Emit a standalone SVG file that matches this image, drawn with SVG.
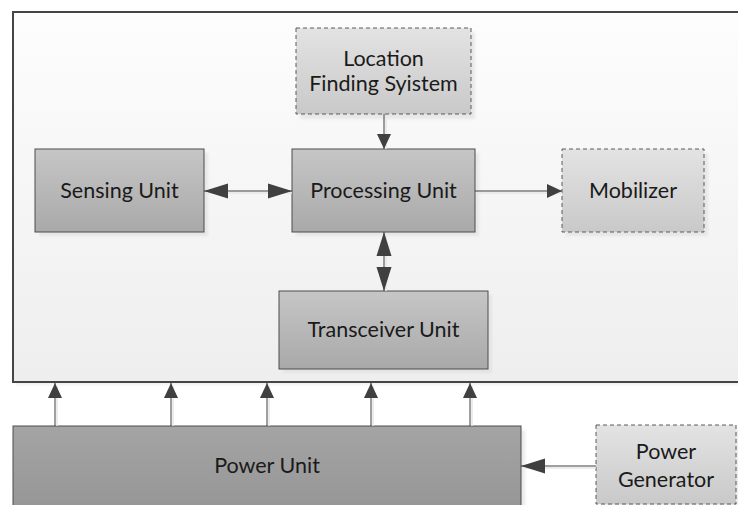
<svg xmlns="http://www.w3.org/2000/svg" width="738" height="505" viewBox="0 0 738 505">
<style>
  .solid { fill: url(#gSolid); stroke: #4d4d4d; stroke-width: 1; }
  .dash { fill: url(#gDash); stroke: #5a5a5a; stroke-width: 1; stroke-dasharray: 4 3; }
  .power { fill: url(#gPower); stroke: #4d4d4d; stroke-width: 1; }
  .shadow { fill: #dcdcdc; opacity: 0.6; filter: url(#blur); }
  .lbl { font-family: Lato, "Open Sans", "Liberation Sans", sans-serif; font-size: 21.5px; fill: #1a1a1a; text-anchor: middle; }
  .conn line { stroke: #404040; stroke-width: 1; fill: none; }
  .conn line.sh { stroke: #e6e6e6; stroke-width: 1.5; }
</style>
<defs>
  <linearGradient id="gBg" x1="0" y1="0" x2="0" y2="1">
    <stop offset="0" stop-color="#fdfdfd"/>
    <stop offset="1" stop-color="#eeeeee"/>
  </linearGradient>
  <linearGradient id="gSolid" x1="0" y1="0" x2="0" y2="1">
    <stop offset="0" stop-color="#c6c6c6"/>
    <stop offset="1" stop-color="#a9a9a9"/>
  </linearGradient>
  <linearGradient id="gDash" x1="0" y1="0" x2="0" y2="1">
    <stop offset="0" stop-color="#e3e3e3"/>
    <stop offset="1" stop-color="#c9c9c9"/>
  </linearGradient>
  <linearGradient id="gPower" x1="0" y1="0" x2="0" y2="1">
    <stop offset="0" stop-color="#a4a4a4"/>
    <stop offset="1" stop-color="#959595"/>
  </linearGradient>
  <filter id="blur" x="-10%" y="-10%" width="120%" height="120%">
    <feGaussianBlur stdDeviation="1.5"/>
  </filter>
  <marker id="big" markerUnits="userSpaceOnUse" markerWidth="24" markerHeight="16" refX="24" refY="8" orient="auto-start-reverse" viewBox="0 0 24 16">
    <path d="M0,0.5 L24,8 L0,15.5 Z" fill="#404040"/>
  </marker>
  <marker id="small" markerUnits="userSpaceOnUse" markerWidth="15" markerHeight="15" refX="15" refY="7.5" orient="auto-start-reverse" viewBox="0 0 15 15">
    <path d="M0,0.5 L15,7.5 L0,14.5 Z" fill="#404040"/>
  </marker>
</defs>

<rect width="738" height="505" fill="#ffffff"/>

<g id="container">
  <rect x="16" y="15" width="730" height="370" fill="#e6e6e6" opacity="0.6" filter="url(#blur)"/>
  <rect x="13" y="12" width="730" height="370" fill="url(#gBg)" stroke="#454545" stroke-width="2"/>
</g>

<g id="location">
  <rect class="shadow" x="300" y="32" width="175" height="87"/>
  <rect class="dash" x="296" y="28" width="175" height="86"/>
  <text class="lbl" x="383.5" y="66">Location</text>
  <text class="lbl" x="383.5" y="91">Finding Syistem</text>
</g>

<g id="sensing">
  <rect class="shadow" x="39" y="153" width="169" height="83"/>
  <rect class="solid" x="35" y="149" width="169" height="83"/>
  <text class="lbl" x="119.5" y="198">Sensing Unit</text>
</g>

<g id="processing">
  <rect class="shadow" x="296" y="153" width="183" height="83"/>
  <rect class="solid" x="292" y="149" width="183" height="83"/>
  <text class="lbl" x="383.5" y="198">Processing Unit</text>
</g>

<g id="mobilizer">
  <rect class="shadow" x="566" y="153" width="142" height="83"/>
  <rect class="dash" x="562" y="149" width="142" height="83"/>
  <text class="lbl" x="633" y="198">Mobilizer</text>
</g>

<g id="transceiver">
  <rect class="shadow" x="283" y="295" width="209" height="78"/>
  <rect class="solid" x="279" y="291" width="209" height="78"/>
  <text class="lbl" x="383.5" y="337">Transceiver Unit</text>
</g>

<g id="power-unit">
  <rect class="shadow" x="17" y="430" width="508" height="90"/>
  <rect class="power" x="13" y="426" width="508" height="90"/>
  <text class="lbl" x="267" y="473">Power Unit</text>
</g>

<g id="power-generator">
  <rect class="shadow" x="600" y="429" width="140" height="80"/>
  <rect class="dash" x="596" y="425" width="140" height="79"/>
  <text class="lbl" x="666" y="459">Power</text>
  <text class="lbl" x="666" y="487">Generator</text>
</g>

<g id="connectors" class="conn">
  <line class="sh" x1="208" y1="193" x2="292" y2="193"/>
  <line x1="204" y1="191" x2="292" y2="191" marker-start="url(#big)" marker-end="url(#big)"/>
  <line class="sh" x1="386" y1="117" x2="386" y2="149"/>
  <line x1="384" y1="114" x2="384" y2="149" marker-end="url(#small)"/>
  <line class="sh" x1="478" y1="193" x2="562" y2="193"/>
  <line x1="475" y1="191" x2="562" y2="191" marker-end="url(#small)"/>
  <line class="sh" x1="386" y1="236" x2="386" y2="291"/>
  <line x1="384" y1="232" x2="384" y2="291" marker-start="url(#big)" marker-end="url(#big)"/>
  <line class="sh" x1="57" y1="386" x2="57" y2="426"/>
  <line x1="55" y1="426" x2="55" y2="383" marker-end="url(#small)"/>
  <line class="sh" x1="173" y1="386" x2="173" y2="426"/>
  <line x1="171" y1="426" x2="171" y2="383" marker-end="url(#small)"/>
  <line class="sh" x1="269" y1="386" x2="269" y2="426"/>
  <line x1="267" y1="426" x2="267" y2="383" marker-end="url(#small)"/>
  <line class="sh" x1="373" y1="386" x2="373" y2="426"/>
  <line x1="371" y1="426" x2="371" y2="383" marker-end="url(#small)"/>
  <line class="sh" x1="472" y1="386" x2="472" y2="426"/>
  <line x1="470" y1="426" x2="470" y2="383" marker-end="url(#small)"/>
  <line class="sh" x1="525" y1="468" x2="596" y2="468"/>
  <line x1="596" y1="466" x2="521" y2="466" marker-end="url(#big)"/>
</g>
</svg>
